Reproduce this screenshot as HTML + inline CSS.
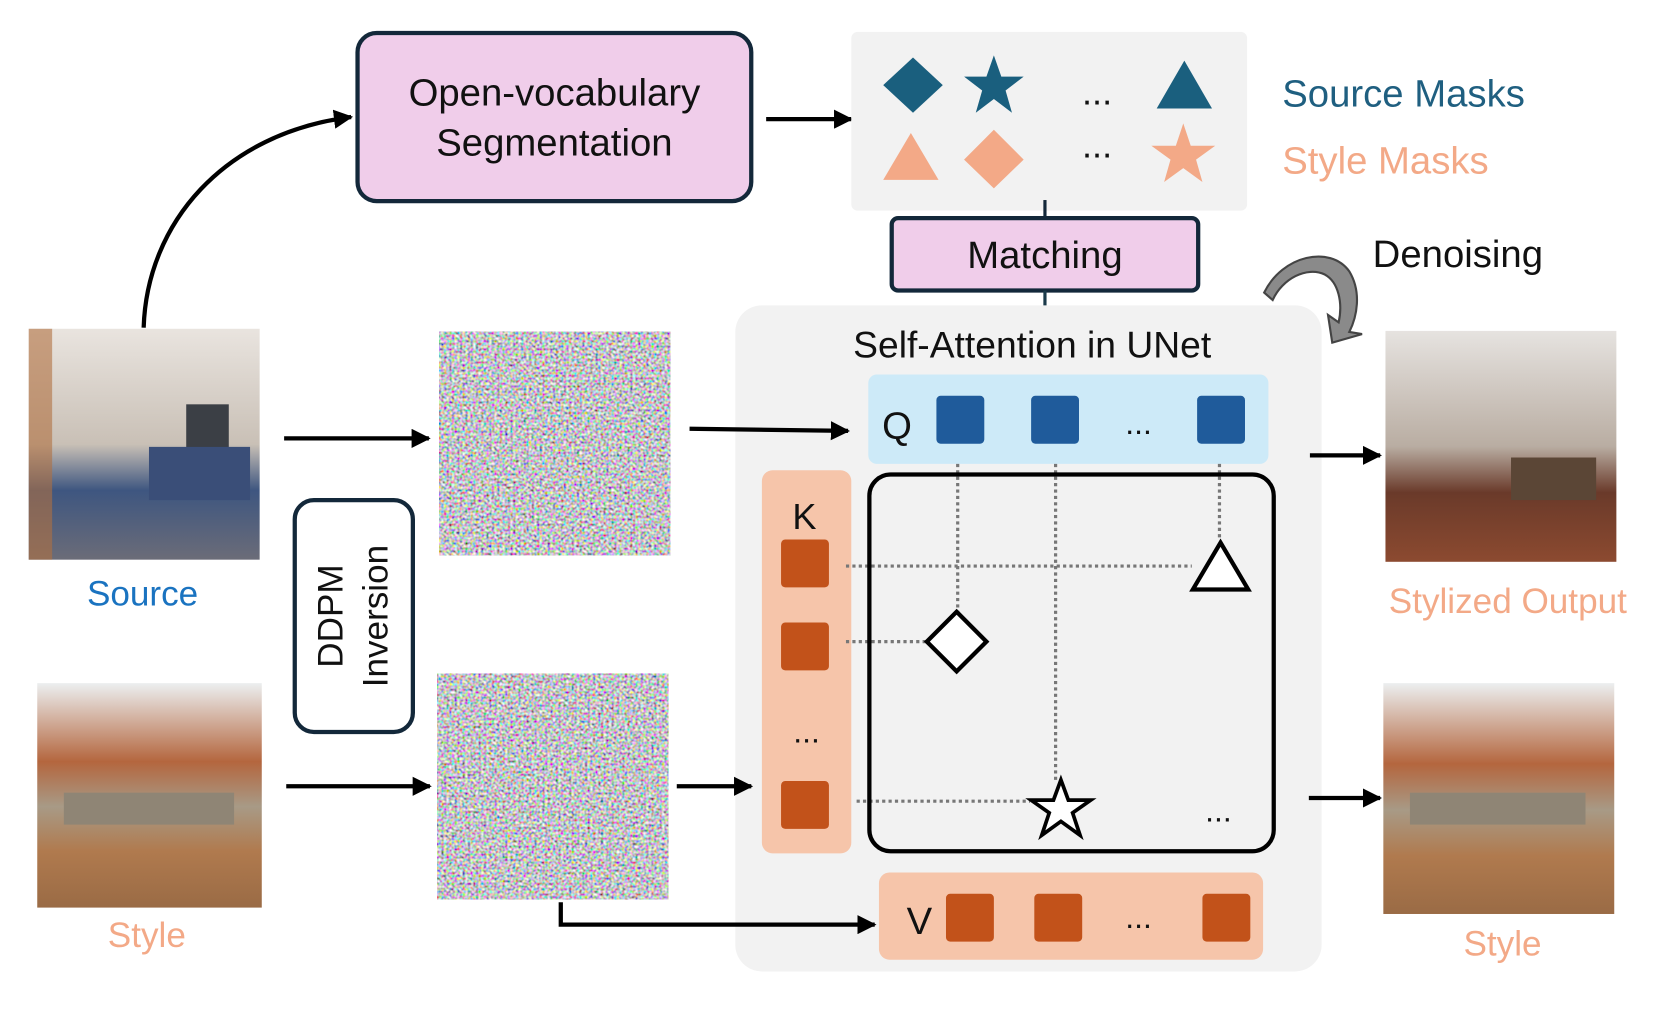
<!DOCTYPE html>
<html><head><meta charset="utf-8"><style>
html,body{margin:0;padding:0;background:#fff;width:1660px;height:1014px;overflow:hidden}
svg text{font-family:"Liberation Sans",sans-serif}
</style></head><body>
<svg width="1660" height="1014" viewBox="0 0 1560 953" preserveAspectRatio="none" xmlns="http://www.w3.org/2000/svg">
<defs>
<marker id="ah" viewBox="0 0 10 10" refX="9" refY="5" markerWidth="4.5" markerHeight="4.5" orient="auto"><path d="M0,0L10,5L0,10z" fill="#000"/></marker>
<marker id="ahd" viewBox="0 0 10 10" refX="9" refY="5" markerWidth="4" markerHeight="4" orient="auto"><path d="M0,0L10,5L0,10z" fill="#1a3a4a"/></marker>
<filter id="noise" x="0" y="0" width="100%" height="100%">
<feTurbulence type="fractalNoise" baseFrequency="0.4" numOctaves="1" seed="3"/>
<feColorMatrix type="matrix" values="2.0 0 0 0 -0.45  0 2.0 0 0 -0.45  0 0 2.0 0 -0.42  0 0 0 0 1"/>
</filter>
<linearGradient id="src" x1="0" y1="0" x2="0" y2="1"><stop offset="0" stop-color="#e9e4df"/><stop offset="0.5" stop-color="#c9c0b6"/><stop offset="0.7" stop-color="#3e5680"/><stop offset="1" stop-color="#6b6c78"/></linearGradient>
<linearGradient id="sty" x1="0" y1="0" x2="0" y2="1"><stop offset="0" stop-color="#eceff0"/><stop offset="0.35" stop-color="#b4663e"/><stop offset="0.55" stop-color="#a89a86"/><stop offset="0.75" stop-color="#b07a4e"/><stop offset="1" stop-color="#9a6b45"/></linearGradient>
<linearGradient id="out" x1="0" y1="0" x2="0" y2="1"><stop offset="0" stop-color="#e6e3e0"/><stop offset="0.5" stop-color="#b9ada2"/><stop offset="0.7" stop-color="#6a3a2a"/><stop offset="1" stop-color="#8c4a30"/></linearGradient>
</defs>

<rect x="336" y="31" width="370" height="158" rx="18" fill="#f0cdea" stroke="#13283a" stroke-width="4"/>
<text x="521" y="99" font-size="36" text-anchor="middle" fill="#111">Open-vocabulary</text>
<text x="521" y="146" font-size="36" text-anchor="middle" fill="#111">Segmentation</text>
<line x1="720" y1="112" x2="800" y2="112" stroke="#000" stroke-width="4" marker-end="url(#ah)"/>

<rect x="800" y="30" width="372" height="168" rx="6" fill="#f2f2f2"/>
<path d="M858,54L886,80L858,106L830,80z" fill="#1a5f7e"/>
<path d="M934,52L941,72L962,72L945,85L951,106L934,93L917,106L923,85L906,72L927,72z" fill="#1a5f7e"/>
<text x="1031" y="98" font-size="34" text-anchor="middle" fill="#111">...</text>
<path d="M1113,57L1139,102L1087,102z" fill="#1a5f7e"/>
<path d="M856,125L882,169L830,169z" fill="#f3a987"/>
<path d="M934,122L962,150L934,177L906,150z" fill="#f3a987"/>
<text x="1031" y="148" font-size="34" text-anchor="middle" fill="#111">...</text>
<path d="M1112,116L1119,137L1142,137L1124,150L1130,171L1112,158L1094,171L1100,150L1082,137L1105,137z" fill="#f3a987"/>
<text x="1205" y="100" font-size="36" fill="#1f5f80">Source Masks</text>
<text x="1205" y="163" font-size="36" fill="#f3a987">Style Masks</text>

<line x1="982" y1="188" x2="982" y2="205" stroke="#13283a" stroke-width="3"/>
<rect x="838" y="205" width="288" height="68" rx="6" fill="#f0cdea" stroke="#13283a" stroke-width="4"/>
<text x="982" y="252" font-size="36" text-anchor="middle" fill="#111">Matching</text>
<line x1="982" y1="273" x2="982" y2="307" stroke="#1a3a4a" stroke-width="3" marker-end="url(#ahd)"/>

<text x="1290" y="251" font-size="36" fill="#111">Denoising</text>
<path d="M1188,275 C1205,240 1250,230 1268,255 C1280,275 1275,298 1268,312 L1280,314 L1252,322 L1248,296 L1258,303 C1262,285 1258,265 1245,258 C1228,250 1205,262 1196,282 z" fill="#8a8a8a" stroke="#444" stroke-width="2"/>

<rect x="691" y="287" width="551" height="626" rx="25" fill="#f2f2f2"/>
<text x="970" y="336" font-size="35" text-anchor="middle" fill="#111">Self-Attention in UNet</text>
<rect x="816" y="352" width="376" height="84" rx="8" fill="#cdeaf8"/>
<text x="843" y="412" font-size="36" text-anchor="middle" fill="#111">Q</text>
<rect x="880" y="372" width="45" height="45" rx="4" fill="#1f5b9b"/>
<rect x="969" y="372" width="45" height="45" rx="4" fill="#1f5b9b"/>
<text x="1070" y="408" font-size="30" text-anchor="middle" fill="#111">...</text>
<rect x="1125" y="372" width="45" height="45" rx="4" fill="#1f5b9b"/>

<rect x="716" y="442" width="84" height="360" rx="10" fill="#f6c5aa"/>
<text x="756" y="497" font-size="34" text-anchor="middle" fill="#111">K</text>
<rect x="734" y="507" width="45" height="45" rx="4" fill="#c2521a"/>
<rect x="734" y="585" width="45" height="45" rx="4" fill="#c2521a"/>
<text x="758" y="698" font-size="30" text-anchor="middle" fill="#111">...</text>
<rect x="734" y="734" width="45" height="45" rx="4" fill="#c2521a"/>

<g stroke="#777" stroke-width="3" stroke-dasharray="3,3" fill="none">
<line x1="900" y1="436" x2="900" y2="575"/>
<line x1="992" y1="436" x2="992" y2="735"/>
<line x1="1146" y1="436" x2="1146" y2="508"/>
<line x1="795" y1="532" x2="1120" y2="532"/>
<line x1="795" y1="603" x2="870" y2="603"/>
<line x1="805" y1="753" x2="968" y2="753"/>
</g>
<rect x="817" y="446" width="380" height="354" rx="20" fill="none" stroke="#000" stroke-width="4"/>
<path d="M1147,510L1173,554L1121,554z" fill="#fff" stroke="#000" stroke-width="4"/>
<path d="M899,575L927,603L899,631L871,603z" fill="#fff" stroke="#000" stroke-width="4"/>
<path d="M997,733L1004,752L1025,752L1008,764L1015,785L997,772L979,785L986,764L969,752L990,752z" fill="#fff" stroke="#000" stroke-width="3.5"/>
<text x="1145" y="772" font-size="30" text-anchor="middle" fill="#111">...</text>

<rect x="826" y="820" width="361" height="82" rx="10" fill="#f6c5aa"/>
<text x="864" y="878" font-size="36" text-anchor="middle" fill="#111">V</text>
<rect x="889" y="840" width="45" height="45" rx="4" fill="#c2521a"/>
<rect x="972" y="840" width="45" height="45" rx="4" fill="#c2521a"/>
<text x="1070" y="872" font-size="30" text-anchor="middle" fill="#111">...</text>
<rect x="1130" y="840" width="45" height="45" rx="4" fill="#c2521a"/>

<rect x="27" y="309" width="217" height="217" fill="url(#src)"/>
<rect x="175" y="380" width="40" height="45" fill="#3b3f45"/>
<rect x="140" y="420" width="95" height="50" fill="#3a4e78"/>
<rect x="27" y="309" width="22" height="217" fill="#b07040" opacity="0.6"/>
<text x="134" y="569" font-size="33" text-anchor="middle" fill="#1a73c0">Source</text>
<path d="M135,308 C138,210 210,125 330,110" fill="none" stroke="#000" stroke-width="4" marker-end="url(#ah)"/>
<line x1="267" y1="412" x2="403" y2="412" stroke="#000" stroke-width="4" marker-end="url(#ah)"/>

<rect x="413" y="312" width="217" height="210" fill="#888" filter="url(#noise)"/>
<rect x="411" y="633" width="217" height="212" fill="#888" filter="url(#noise)"/>

<rect x="277" y="470" width="111" height="218" rx="18" fill="#fff" stroke="#13283a" stroke-width="4"/>
<text transform="translate(322,579) rotate(-90)" font-size="33" text-anchor="middle" fill="#111">DDPM</text>
<text transform="translate(364,579) rotate(-90)" font-size="33" text-anchor="middle" fill="#111">Inversion</text>

<rect x="35" y="642" width="211" height="211" fill="url(#sty)"/>
<rect x="60" y="745" width="160" height="30" fill="#8f8575"/>
<text x="138" y="890" font-size="33" text-anchor="middle" fill="#f3a987">Style</text>
<line x1="269" y1="739" x2="404" y2="739" stroke="#000" stroke-width="4" marker-end="url(#ah)"/>

<line x1="648" y1="403" x2="797" y2="405" stroke="#000" stroke-width="4" marker-end="url(#ah)"/>
<line x1="636" y1="739" x2="706" y2="739" stroke="#000" stroke-width="4" marker-end="url(#ah)"/>
<path d="M527,848 L527,869 L822,869" fill="none" stroke="#000" stroke-width="4" marker-end="url(#ah)"/>

<rect x="1302" y="311" width="217" height="217" fill="url(#out)"/>
<rect x="1420" y="430" width="80" height="40" fill="#5b4636"/>
<text x="1417" y="576" font-size="33" text-anchor="middle" fill="#f3a987">Stylized Output</text>
<line x1="1231" y1="428" x2="1297" y2="428" stroke="#000" stroke-width="4" marker-end="url(#ah)"/>
<line x1="1230" y1="750" x2="1297" y2="750" stroke="#000" stroke-width="4" marker-end="url(#ah)"/>
<rect x="1300" y="642" width="217" height="217" fill="url(#sty)"/>
<rect x="1325" y="745" width="165" height="30" fill="#8f8575"/>
<text x="1412" y="898" font-size="33" text-anchor="middle" fill="#f3a987">Style</text>
</svg>
</body></html>
